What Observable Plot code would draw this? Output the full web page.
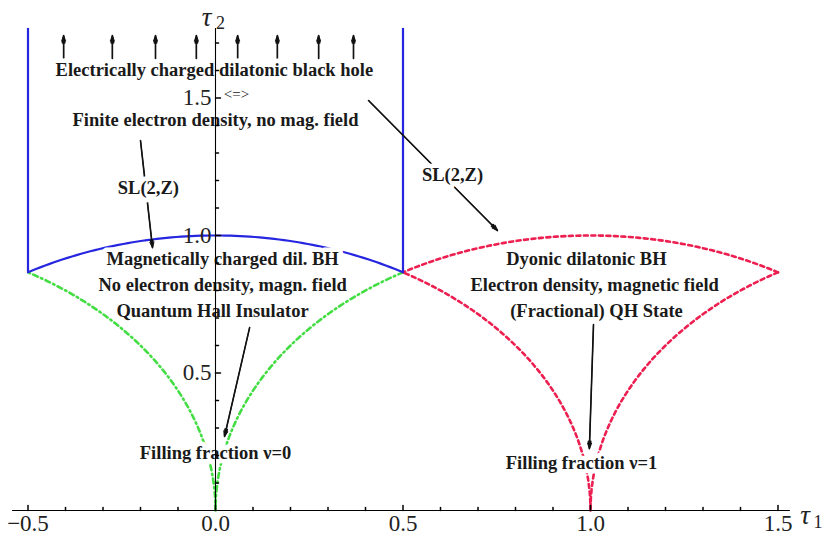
<!DOCTYPE html>
<html><head><meta charset="utf-8">
<script src="https://cdn.jsdelivr.net/npm/d3@7"></script>
<script src="https://cdn.jsdelivr.net/npm/@observablehq/plot@0.6"></script>
<style>body{margin:0;background:#fff;}</style>
</head><body><div id="chart"></div>
<script>
// ---- data ----
// circular arcs (radius 1, centre on the tau1 axis), angles in degrees
const arcGroup  = ["blue", "green", "green", "red", "red", "red"];
const arcCenter = [0, 1, -1, 0, 2, 1];
const arcFrom   = [60, 120, 0, 0, 120, 60];
const arcTo     = [120, 180, 60, 60, 180, 120];
// vertical boundaries of the fundamental domain
const wallX = [-0.5, 0.5];
const wallBottom = Math.sqrt(3) / 2;
const yTop = 1.753;
const xAxisFrom = -0.541, xAxisTo = 1.533;

// axis ticks
const xTickValues = [-0.5, 0, 0.5, 1, 1.5];
const xTickLabels = ["\u22120.5", "0.0", "0.5", "1.0", "1.5"];
const yTickValues = [0.5, 1, 1.5];
const yTickLabels = ["0.5", "1.0", "1.5"];
const xMinorTicks = [-0.4,-0.3,-0.2,-0.1,0.1,0.2,0.3,0.4,0.6,0.7,0.8,0.9,1.1,1.2,1.3,1.4];
const yMinorTicks = [0.1,0.2,0.3,0.4,0.6,0.7,0.8,0.9,1.1,1.2,1.3,1.4,1.6,1.7];

// annotations
const noteText = [
  "Electrically charged dilatonic black hole",
  "Finite electron density, no mag. field",
  "SL(2,Z)",
  "SL(2,Z)",
  "Magnetically charged dil. BH",
  "No electron density, magn. field",
  "Quantum Hall Insulator",
  "Dyonic dilatonic BH",
  "Electron density, magnetic field",
  "(Fractional) QH State",
  "Filling fraction \u03bd=0",
  "Filling fraction \u03bd=1"
];
const noteX = [-0.003, 0.0, -0.179, 0.632, 0.019, 0.019, -0.008, 0.989, 1.011, 1.016, 0.0, 0.976];
const noteY = [1.600, 1.418, 1.171, 1.218, 0.913, 0.818, 0.724, 0.913, 0.818, 0.724, 0.207, 0.171];

// arrows
const upArrowX = [-0.405, -0.275, -0.160, -0.051, 0.059, 0.165, 0.275, 0.368];
const upArrowFrom = 1.644, upArrowTo = 1.727;
const arrowX1 = [-0.200, 0.408, 0.091, 1.008];
const arrowY1 = [1.345, 1.491, 0.665, 0.676];
const arrowX2 = [-0.168, 0.752, 0.024, 0.997];
const arrowY2 = [0.956, 1.018, 0.269, 0.225];

// ---- build tables ----
const arcs = [];
arcGroup.forEach((g, i) => {
  const n = 80;
  for (let k = 0; k <= n; k++) {
    const a = (arcFrom[i] + (arcTo[i] - arcFrom[i]) * k / n) * Math.PI / 180;
    arcs.push({arc: i, group: g, x: arcCenter[i] + Math.cos(a), y: Math.sin(a)});
  }
});
const walls = wallX.map(x => ({x, y1: wallBottom, y2: yTop}));
const notes = noteText.map((t, i) => ({t, x: noteX[i], y: noteY[i]}));
const arrows = arrowX1.map((x1, i) => ({x1, y1: arrowY1[i], x2: arrowX2[i], y2: arrowY2[i]}))
  .concat(upArrowX.map(x => ({x1: x, y1: upArrowFrom, x2: x, y2: upArrowTo})));

const colors = {blue: "#2626e0", green: "#44dd44", red: "#ec1f50"};
const tickShape = {draw(context, l) { context.moveTo(0, 0); context.lineTo(0, -l); }};
const serif = "'Liberation Serif', 'DejaVu Serif', serif";

const chart = Plot.plot({
  width: 825, height: 538,
  marginLeft: 27.5, marginRight: 47.5, marginTop: 28.75, marginBottom: 28,
  x: {domain: [-0.5, 1.5], axis: null},
  y: {domain: [0, 1.75], axis: null},
  style: {fontFamily: serif, background: "white", color: "black"},
  marks: [
    Plot.line(arcs.filter(d => d.group === "green"), {x: "x", y: "y", z: "arc", stroke: colors.green, strokeWidth: 2.6, strokeDasharray: "5,3.5,1.5,3.5"}),
    Plot.line(arcs.filter(d => d.group === "red"), {x: "x", y: "y", z: "arc", stroke: colors.red, strokeWidth: 2.6, strokeDasharray: "4,3.5"}),
    Plot.line(arcs.filter(d => d.group === "blue"), {x: "x", y: "y", z: "arc", stroke: colors.blue, strokeWidth: 2.2}),
    Plot.ruleX(walls, {x: "x", y1: "y1", y2: "y2", stroke: colors.blue, strokeWidth: 2.2}),
    Plot.arrow(arrows, {x1: "x1", y1: "y1", x2: "x2", y2: "y2", stroke: "#111", strokeWidth: 1.1, headLength: 8, headAngle: 40}),
    Plot.arrow(arrows, {x1: "x1", y1: "y1", x2: "x2", y2: "y2", stroke: "#111", strokeWidth: 1.6, headLength: 7, headAngle: 18}),
    Plot.text(notes, {x: "x", y: "y", text: "t", fontSize: 18.5, fontWeight: "bold", fill: "#1a1a1a", stroke: "white", strokeWidth: 9, lineAnchor: "middle"}),
    Plot.text(["<=>"], {x: 0.056, y: 1.513, text: d => d, fontSize: 15, fill: "#222"}),
    // axes
    Plot.ruleY([0], {x1: xAxisFrom, x2: xAxisTo, stroke: "black", strokeWidth: 1.1}),
    Plot.ruleX([0], {y1: 0, y2: yTop, stroke: "black", strokeWidth: 1.1}),
    Plot.vector(xTickValues, {x: d => d, y: 0, length: 5, anchor: "start", shape: tickShape, stroke: "black"}),
    Plot.vector(xMinorTicks, {x: d => d, y: 0, length: 3, anchor: "start", shape: tickShape, stroke: "black"}),
    Plot.vector(yTickValues, {x: 0, y: d => d, length: 5, rotate: 90, anchor: "start", shape: tickShape, stroke: "black"}),
    Plot.vector(yMinorTicks, {x: 0, y: d => d, length: 3, rotate: 90, anchor: "start", shape: tickShape, stroke: "black"}),
    Plot.text(xTickValues, {x: d => d, y: 0, text: (d, i) => xTickLabels[i], dy: 13, fontSize: 23, lineAnchor: "middle", fill: "#222"}),
    Plot.text(yTickValues, {x: 0, y: d => d, text: (d, i) => yTickLabels[i], dx: -4, textAnchor: "end", fontSize: 23, lineAnchor: "middle", fill: "#222"}),
    // axis labels
    Plot.text(["\u03c4"], {x: 0, y: 1.80, text: d => d, dx: -9, dy: 2, fontSize: 27, fontStyle: "italic", fill: "#222"}),
    Plot.text(["2"], {x: 0, y: 1.80, text: d => d, dx: 5, dy: 8, fontSize: 18, fill: "#222"}),
    Plot.text(["\u03c4"], {x: 1.5, y: 0, text: d => d, dx: 27, dy: 5, fontSize: 27, fontStyle: "italic", fill: "#222"}),
    Plot.text(["1"], {x: 1.5, y: 0, text: d => d, dx: 40, dy: 12, fontSize: 18, fill: "#222"})
  ]
});
document.getElementById("chart").appendChild(chart);
</script></body></html>
